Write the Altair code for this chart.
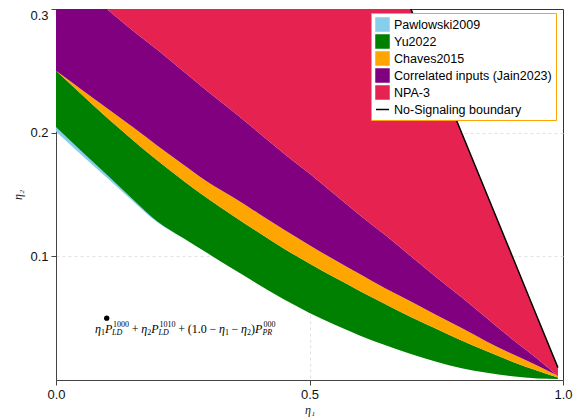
import altair as alt
import pandas as pd

# ---------------- data ----------------
eta1 = [0.0, 0.05, 0.1, 0.15, 0.2, 0.25, 0.3, 0.35, 0.4, 0.45, 0.5,
        0.55, 0.6, 0.65, 0.7, 0.75, 0.8, 0.85, 0.9, 0.95, 0.99]

# Pawlowski2009 lower edge (only visible on the left)
pawlowski_lower = [0.2010, 0.1822, 0.1637, 0.1452, 0.1275, 0.1150]

# Yu2022 band
yu_lower = [0.2046, 0.1852, 0.1662, 0.1467, 0.1282, 0.1150, 0.1022, 0.0895, 0.0771, 0.0650, 0.0542,
            0.0446, 0.0358, 0.0280, 0.0210, 0.0148, 0.0096, 0.0058, 0.0030, 0.0012, 0.0008]
yu_upper = [0.2500, 0.2310, 0.2122, 0.1945, 0.1775, 0.1615, 0.1465, 0.1326, 0.1192, 0.1062, 0.0942,
            0.0828, 0.0718, 0.0612, 0.0510, 0.0415, 0.0320, 0.0232, 0.0148, 0.0075, 0.0020]

# Chaves2015 upper edge
chaves_upper = [0.2500, 0.2350, 0.2200, 0.2050, 0.1895, 0.1745, 0.1600, 0.1475, 0.1345, 0.1215, 0.1090,
                0.0970, 0.0855, 0.0740, 0.0635, 0.0525, 0.0420, 0.0310, 0.0210, 0.0115, 0.0035]

# Correlated inputs (Jain2023) upper edge
jain_upper = [0.333, 0.317, 0.300, 0.283, 0.267, 0.250, 0.233, 0.217, 0.200, 0.183, 0.167,
              0.150, 0.133, 0.117, 0.100, 0.083, 0.067, 0.050, 0.033, 0.017, 0.003]

# No-signaling boundary (upper edge of NPA-3)
ns_boundary = [1.00, 0.95, 0.90, 0.85, 0.80, 0.75, 0.70, 0.65, 0.60, 0.55, 0.50,
               0.45, 0.40, 0.35, 0.30, 0.25, 0.20, 0.15, 0.10, 0.05, 0.01]

series = ["Pawlowski2009", "Yu2022", "Chaves2015", "Correlated inputs (Jain2023)",
          "NPA-3", "No-Signaling boundary"]
colors = ["#87ceeb", "#008000", "#ffa500", "#800080", "#e62350", "#000000"]
shapes = ["square", "square", "square", "square", "square", "stroke"]

point_eta1 = [0.1]
point_eta2 = [0.05]

x_ticks = [0.0, 0.5, 1.0]
y_ticks = [0.1, 0.2, 0.3]

# ---------------- tables ----------------
df = pd.DataFrame({"eta1": eta1, "yu_lower": yu_lower, "yu_upper": yu_upper,
                   "chaves_upper": chaves_upper, "jain_upper": jain_upper, "ns": ns_boundary})
n_blue = len(pawlowski_lower)
df_blue = pd.DataFrame({"eta1": eta1[:n_blue], "lower": pawlowski_lower, "upper": yu_upper[:n_blue]})
df_leg = pd.DataFrame({"series": series, "eta1": [eta1[0]] * len(series),
                       "eta2": [chaves_upper[0]] * len(series)})
df_pt = pd.DataFrame({"eta1": point_eta1, "eta2": point_eta2})

xs = alt.Scale(domain=[0, 1], nice=False, zero=False)
ys = alt.Scale(domain=[0, 0.3], nice=False, zero=False)

common_axis = dict(labelFlush=False, grid=True, gridDash=[3, 3], gridColor="#e2e2e2", gridWidth=1,
                   tickSize=5, tickColor="#444", domainColor="#444", labelFont="Liberation Sans",
                   labelFontSize=13, labelColor="#111", labelPadding=3,
                   titleFont="Liberation Serif", titleFontStyle="italic", titleFontWeight="normal",
                   titleFontSize=12, titleColor="#222")
xa = alt.Axis(values=x_ticks, format=".1f", titlePadding=3,
              gridOpacity={"condition": {"test": "datum.value <= 0.001 || datum.value >= 0.999", "value": 0},
                           "value": 1},
              **common_axis)
ya = alt.Axis(values=y_ticks, format=".1f", titlePadding=5,
              gridOpacity={"condition": {"test": "datum.value >= 0.299", "value": 0}, "value": 1},
              labelBaseline={"condition": {"test": "datum.value >= 0.299", "value": "top"},
                             "value": "middle"},
              **common_axis)


def X(field):
    return alt.X(field, type="quantitative", scale=xs, axis=xa, title="η₁")


def Y(field):
    return alt.Y(field, type="quantitative", scale=ys, axis=ya, title="η₂")


def band(data, lo, hi, color):
    return alt.Chart(data).mark_area(color=color, clip=True, interpolate="monotone").encode(
        x=X("eta1"), y=Y(lo), y2=alt.Y2(hi))


layers = [
    band(df_blue, "lower", "upper", colors[0]),
    band(df, "yu_lower", "yu_upper", colors[1]),
    band(df, "yu_upper", "chaves_upper", colors[2]),
    band(df, "chaves_upper", "jain_upper", colors[3]),
    band(df, "jain_upper", "ns", colors[4]),
    alt.Chart(df).mark_line(color="black", strokeWidth=1.5, clip=True).encode(x=X("eta1"), y=Y("ns")),
]

leg = alt.Legend(orient="none", legendX=315, legendY=4, title=None, padding=4, strokeColor="#ffa500",
                 fillColor="white", cornerRadius=0, labelFont="Liberation Sans", labelFontSize=12.5,
                 labelColor="black", labelLimit=400, symbolSize=169, symbolStrokeWidth=1.5,
                 symbolOpacity=1, rowPadding=-2, labelOffset=4, symbolLimit=10)

layers.append(
    alt.Chart(df_leg).mark_point(filled=True, opacity=0, strokeWidth=1.5, clip=True).encode(
        x=X("eta1"), y=Y("eta2"),
        fill=alt.Fill("series:N", scale=alt.Scale(domain=series, range=colors), legend=leg),
        stroke=alt.Stroke("series:N", scale=alt.Scale(domain=series, range=colors), legend=leg),
        shape=alt.Shape("series:N", scale=alt.Scale(domain=series, range=shapes), legend=leg),
    )
)

layers.append(alt.Chart(df_pt).mark_point(filled=True, color="black", opacity=1, size=28).encode(
    x=X("eta1"), y=Y("eta2")))

# annotation formula built from pieces: (text, x position in px, kind, italic)
anchor_px = 106.7
pieces = [
    ("η", 95.0, "main", True), ("1", 101.0, "sub", False), ("P", 105.0, "main", True),
    ("1000", 113.0, "sup", False), ("LD", 112.0, "sub", True),
    ("+", 131.7, "main", False),
    ("η", 141.2, "main", True), ("2", 147.2, "sub", False), ("P", 151.2, "main", True),
    ("1010", 159.5, "sup", False), ("LD", 158.5, "sub", True),
    ("+", 178.2, "main", False),
    ("(1.0", 187.7, "main", False), ("−", 209.4, "main", False),
    ("η", 218.9, "main", True), ("1", 224.9, "sub", False), ("−", 231.6, "main", False),
    ("η", 241.1, "main", True), ("2", 247.1, "sub", False), (")", 251.1, "main", False),
    ("P", 255.1, "main", True), ("000", 263.4, "sup", False), ("PR", 262.4, "sub", True),
]
dy_of = {"main": 14.5, "sup": 8.5, "sub": 17.0}
size_of = {"main": 12, "sup": 8, "sub": 8}
for txt, px, kind, ital in pieces:
    layers.append(
        alt.Chart(df_pt).mark_text(
            text=txt, align="left", baseline="alphabetic", dx=px - anchor_px, dy=dy_of[kind],
            fontSize=size_of[kind], font="Liberation Serif",
            fontStyle="italic" if ital else "normal", color="black"
        ).encode(x=X("eta1"), y=Y("eta2"))
    )

chart = alt.layer(*layers).properties(
    width=507, height=371,
    autosize=alt.AutoSizeParams(type="none"),
    padding={"left": 48, "top": 1, "right": 13, "bottom": 38},
).configure_view(stroke="#333", strokeWidth=1)

chart.save("out.html", embed_options={"renderer": "svg", "actions": False})
